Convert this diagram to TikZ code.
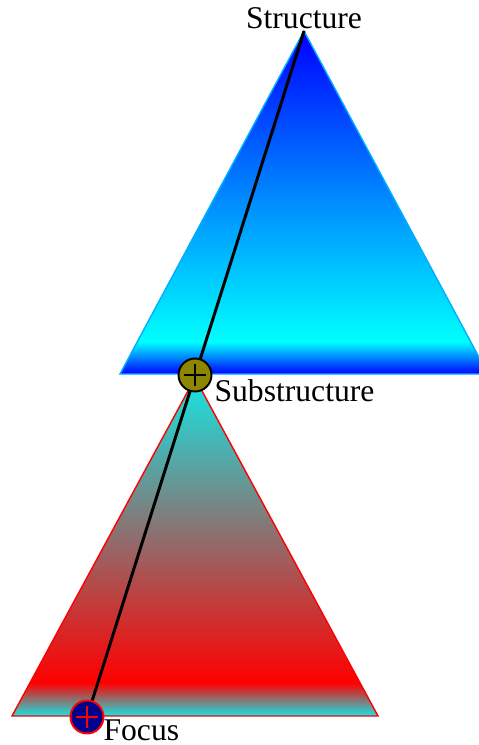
\documentclass[tikz,border=0pt]{standalone}
\usepackage{fontspec}
\setmainfont{Liberation Serif}
\usepackage{xcolor}
\usetikzlibrary{positioning}
\definecolor{turq}{RGB}{20,230,228}
\definecolor{edgeblue}{RGB}{0,175,255}
\definecolor{navyfill}{RGB}{0,0,140}
\pgfdeclareverticalshading{structshade}{100bp}{color(0bp)=(blue); color(25bp)=(blue); color(29.7bp)=(cyan); color(75bp)=(blue); color(100bp)=(blue)}
\pgfdeclareverticalshading{focusshade}{100bp}{color(0bp)=(turq); color(25bp)=(turq); color(29.9bp)=(red); color(75bp)=(turq); color(100bp)=(turq)}

\begin{document}
\begin{tikzpicture}[x=0.02cm,y=-0.02cm,
    lbl/.style={font=\fontsize{18}{20}\selectfont, inner sep=1pt},
    pluscirc/.style={circle, minimum size=0.66cm, inner sep=0pt, line width=1.1pt,
      path picture={\draw[line width=1.1pt,#1] (path picture bounding box.center) +(0,6.5pt) -- +(0,-6.5pt)
        (path picture bounding box.center) +(-6.5pt,0) -- +(6.5pt,0);}}]
    \useasboundingbox (0,0) rectangle (479,745);
    \coordinate (apex) at (304,31);
    \coordinate (subc) at (195,375);
    \coordinate (focc) at (87,717);
    % the two triangles
    \shade[draw=edgeblue, line width=0.8pt, shading=structshade] (apex) -- (488,374) -- (120,374) -- cycle;
    \shade[draw=red, line width=0.8pt, shading=focusshade] (195,378) -- (378,716) -- (12,716) -- cycle;
    \draw[line width=1.7pt] (apex) -- (focc);
    \node[pluscirc=black, fill=olive, draw=black] (sub) at (subc) {};
    \node[pluscirc=red, fill=navyfill, draw=red] (focus) at (focc) {};
    \node[lbl, above] (structlbl) at (apex) {Structure};
    \node[lbl, anchor=base west] (sublbl) at ([yshift=-0.52cm]sub.east) {Substructure};
    \node[lbl, anchor=base west] (foclbl) at ([xshift=-0.06cm,yshift=-0.47cm]focus.east) {Focus};
\end{tikzpicture}
\end{document}
